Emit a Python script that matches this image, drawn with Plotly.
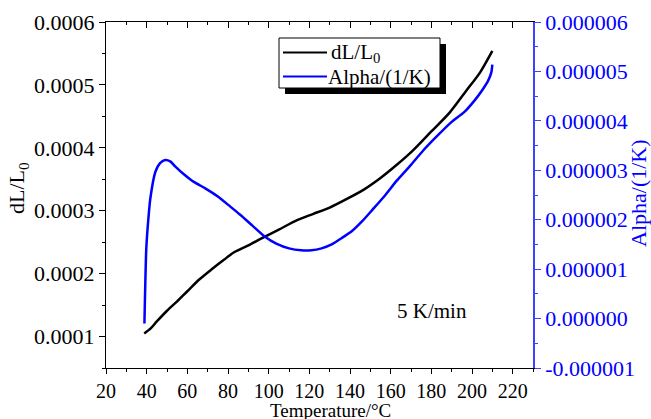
import plotly.graph_objects as go

# ---------------- data ----------------
temp_dl = [38.8, 42, 45, 50, 55, 60, 66, 72, 78, 83, 90, 97, 105, 114, 122, 130,
           138, 147, 155, 163, 171, 180, 189, 197, 204, 210]
dl_l0 = [0.000105, 0.000113, 0.000124, 0.000141, 0.000156, 0.000172, 0.000191,
         0.000207, 0.000222, 0.000234, 0.000245, 0.000257, 0.000270, 0.000285,
         0.000295, 0.000305, 0.000318, 0.000334, 0.000352, 0.000373, 0.000396,
         0.000426, 0.000456, 0.000490, 0.000520, 0.000554]

temp_alpha = [38.9, 39.8, 40.8, 41.8, 44.3, 46.7, 49.2, 51.6, 54, 58, 63, 69, 75, 81,
              86, 92, 98, 104, 110, 116, 121, 126, 131, 136, 141, 146, 151, 157,
              163, 170, 176, 183, 190, 196, 201, 205, 208, 209.5, 210]
alpha = [-0.10e-6, 1.40e-6, 2.00e-6, 2.43e-6, 2.97e-6, 3.15e-6, 3.21e-6, 3.18e-6,
         3.08e-6, 2.93e-6, 2.77e-6, 2.63e-6, 2.47e-6, 2.27e-6, 2.10e-6, 1.88e-6,
         1.66e-6, 1.51e-6, 1.42e-6, 1.38e-6, 1.38e-6, 1.42e-6, 1.50e-6, 1.63e-6,
         1.77e-6, 1.97e-6, 2.20e-6, 2.48e-6, 2.79e-6, 3.11e-6, 3.40e-6, 3.70e-6,
         3.98e-6, 4.17e-6, 4.40e-6, 4.62e-6, 4.82e-6, 4.98e-6, 5.14e-6]

alpha_tickvals = [-1e-6, 0, 1e-6, 2e-6, 3e-6, 4e-6, 5e-6, 6e-6]
alpha_ticktext = ["-0.000001", "0.000000", "0.000001", "0.000002", "0.000003",
                  "0.000004", "0.000005", "0.000006"]

FONT = "Liberation Serif"
BLUE = "#0000ff"
AXBLUE = "#4040ff"

# plot area in pixels
L, R, T, B = 106, 533, 22, 368
W, H = 651, 419


def px(xp):
    return (xp - L) / (R - L)


def py(yp):
    return (B - yp) / (B - T)


def text(s, x, y, size=22, color="black", angle=0, xanchor="center"):
    fig.add_annotation(text=s, xref="paper", yref="paper", x=px(x), y=py(y),
                       xanchor=xanchor, yanchor="middle", showarrow=False,
                       textangle=angle, borderpad=0,
                       font=dict(family=FONT, size=size, color=color))


fig = go.Figure()
fig.add_trace(go.Scatter(x=temp_dl, y=dl_l0, mode="lines", name="dL/L<sub>0</sub>",
                         line=dict(color="black", width=2.5, shape="spline", smoothing=0.8),
                         showlegend=False))
fig.add_trace(go.Scatter(x=temp_alpha, y=alpha, mode="lines", name="Alpha/(1/K)",
                         yaxis="y2",
                         line=dict(color=BLUE, width=2.5, shape="spline", smoothing=0.6),
                         showlegend=False))
# empty trace to host the top mirror axis
fig.add_trace(go.Scatter(x=[None], y=[None], xaxis="x2", showlegend=False))

fig.update_layout(
    width=W, height=H,
    margin=dict(l=L, r=W - R, t=T, b=H - B, autoexpand=False),
    paper_bgcolor="white", plot_bgcolor="white", showlegend=False,
    font=dict(family=FONT, size=21, color="black"),
    xaxis=dict(range=[20, 230], dtick=20, tick0=20, showgrid=False, zeroline=False,
               automargin=False,
               showline=True, linecolor="black", linewidth=1.2,
               ticks="outside", ticklen=5, tickcolor="black", tickwidth=1.2,
               minor=dict(dtick=10, ticks="outside", ticklen=3, tickcolor="black"),
               tickfont=dict(family=FONT, size=20, color="black")),
    xaxis2=dict(range=[20, 230], dtick=20, tick0=20, overlaying="x", side="top",
                anchor="y", showgrid=False, zeroline=False, showline=True,
                automargin=False,
                linecolor="black", linewidth=1.2, ticks="inside", ticklen=6,
                tickcolor="black", showticklabels=False,
                minor=dict(dtick=10, ticks="inside", ticklen=3, tickcolor="black")),
    yaxis=dict(range=[0.00005, 0.0006], dtick=0.0001, tick0=0, tickformat=".4f",
               automargin=False,
               showgrid=False, zeroline=False, showline=True, linecolor="black",
               linewidth=1.2, ticks="outside", ticklen=6, tickcolor="black",
               minor=dict(dtick=0.00005, ticks="outside", ticklen=3, tickcolor="black"),
               tickfont=dict(family=FONT, size=22, color="black")),
    yaxis2=dict(range=[-1e-6, 6e-6], overlaying="y", side="right", anchor="x",
                automargin=False,
                tickvals=alpha_tickvals, ticktext=alpha_ticktext,
                showgrid=False, zeroline=False, showline=True, linecolor=AXBLUE,
                linewidth=1.5, ticks="outside", ticklen=6, tickcolor=AXBLUE,
                minor=dict(dtick=0.5e-6, tick0=0, ticks="outside", ticklen=3, tickcolor=AXBLUE),
                tickfont=dict(family=FONT, size=22, color=BLUE)),
)

# axis titles and note
text("Temperature/°C", 330, 410, size=19)
text("dL/L<sub>0</sub>", 18, 188, angle=-90)
text("Alpha/(1/K)", 639, 193, color=BLUE, angle=-90)
text("5 K/min", 432, 311, size=21)

# legend box with shadow
fig.add_shape(type="rect", xref="paper", yref="paper",
              x0=px(285), x1=px(446), y0=py(94), y1=py(44),
              fillcolor="black", line=dict(width=0))
fig.add_shape(type="rect", xref="paper", yref="paper",
              x0=px(279), x1=px(440), y0=py(88), y1=py(38),
              fillcolor="white", line=dict(color="black", width=1))
fig.add_shape(type="line", xref="paper", yref="paper",
              x0=px(283), x1=px(327), y0=py(52.5), y1=py(52.5),
              line=dict(color="black", width=2))
fig.add_shape(type="line", xref="paper", yref="paper",
              x0=px(283), x1=px(327), y0=py(76.5), y1=py(76.5),
              line=dict(color=BLUE, width=2))
text("dL/L<sub>0</sub>", 330, 53, size=21, xanchor="left")
text("Alpha/(1/K)", 327, 77, size=21, xanchor="left")

fig.write_html("out.html")
